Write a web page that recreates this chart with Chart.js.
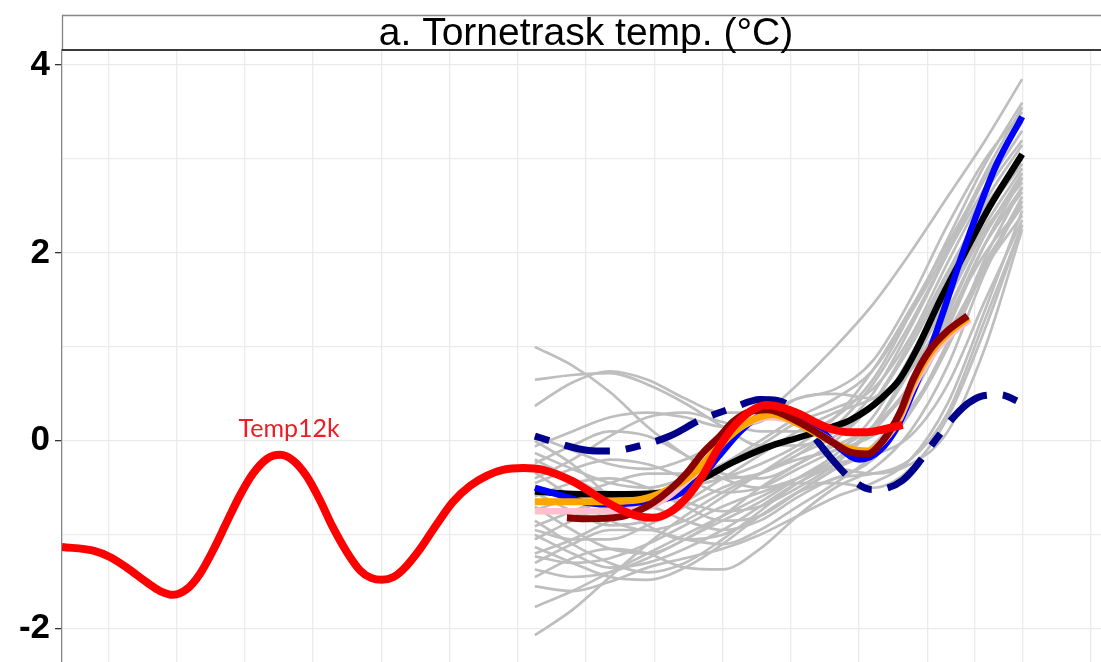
<!DOCTYPE html>
<html><head><meta charset="utf-8">
<script src="https://cdn.jsdelivr.net/npm/chart.js@4.4.1/dist/chart.umd.min.js"></script>
<style>html,body{margin:0;padding:0;background:#fff;overflow:hidden}canvas{display:block}</style>
</head><body>
<canvas id="c" width="1101" height="662"></canvas>
<script>
// ---------- DATA ----------
const panelTitle = 'a. Tornetrask temp. (°C)';
const seriesLabel = 'Temp12k';
const seriesLabelPos = [2.65, 0.04];

const yGridValues = [-2, -1, 0, 1, 2, 3, 4];
const yLabelValues = [-2, 0, 2, 4];
const xGridValues = [0, 1, 2, 3, 4, 5, 6, 7, 8, 9, 10, 11, 12, 12.69, 13.39, 14.39];
const xRange = [-0.678, 14.545];
const yRange = [-2.355, 4.16];

const temp12kX = [-0.68,-0.22,0.03,0.27,0.57,0.76,0.95,1.15,1.34,1.54,1.74,1.93,2.12,2.33,2.52,2.71,2.91,3.10,3.29,3.50,3.69,3.85,4.01,4.18,4.32,4.57,4.82,5.05,5.30,5.55,5.78,6.08,6.37,6.77,7.01,7.25,7.50,7.75,7.98,8.23,8.48,8.71,8.92,9.15,9.40,9.65,9.89,10.14,10.38,10.62,10.87,11.12,11.35,11.64];
const temp12kY = [-1.13,-1.17,-1.24,-1.35,-1.51,-1.60,-1.64,-1.58,-1.42,-1.16,-0.86,-0.58,-0.35,-0.19,-0.15,-0.21,-0.38,-0.63,-0.92,-1.19,-1.38,-1.46,-1.48,-1.45,-1.37,-1.15,-0.88,-0.65,-0.48,-0.37,-0.31,-0.29,-0.31,-0.42,-0.52,-0.63,-0.73,-0.80,-0.82,-0.76,-0.60,-0.37,-0.10,0.14,0.31,0.38,0.35,0.28,0.19,0.12,0.09,0.09,0.12,0.17];

const navyX = [6.25,6.52,7.01,7.35,7.75,8.23,8.67,9.15,9.55,9.80,10.00,10.28,10.62,10.87,11.19,11.43,11.64,11.79,12.04,12.26,12.41,12.60,12.82,13.06,13.39];
const navyY = [0.05,-0.01,-0.10,-0.11,-0.06,0.05,0.22,0.35,0.44,0.43,0.36,0.10,-0.21,-0.40,-0.52,-0.50,-0.42,-0.31,-0.07,0.14,0.27,0.40,0.48,0.49,0.40];

const blackX = [6.25,7.01,7.98,8.38,8.77,9.15,9.65,10.14,10.62,10.87,11.12,11.31,11.60,11.85,12.19,12.55,12.92,13.39];
const blackY = [-0.54,-0.57,-0.56,-0.51,-0.38,-0.23,-0.07,0.04,0.15,0.22,0.33,0.44,0.66,0.98,1.50,2.00,2.50,3.05];

const blueX = [6.25,6.77,7.01,7.50,7.98,8.38,8.67,8.96,9.26,9.55,9.80,10.14,10.43,10.72,11.01,11.31,11.56,11.79,12.04,12.27,12.51,12.76,13.02,13.39];
const blueY = [-0.50,-0.61,-0.66,-0.68,-0.65,-0.56,-0.40,-0.15,0.10,0.27,0.32,0.27,0.12,-0.08,-0.20,-0.10,0.15,0.52,0.97,1.45,1.98,2.48,2.95,3.45];

const pinkX = [6.25,7.01,7.50,7.94,8.23,8.52,8.82,9.18,9.69,10.14,10.62,10.87,11.12,11.35,11.60,11.79,12.04,12.28,12.62];
const pinkY = [-0.75,-0.75,-0.74,-0.70,-0.58,-0.40,-0.18,0.10,0.25,0.18,-0.01,-0.10,-0.13,-0.01,0.24,0.56,0.88,1.09,1.29];

const orangeX = [6.25,7.01,7.75,8.08,8.38,8.63,8.96,9.33,9.74,10.14,10.62,10.87,11.12,11.35,11.60,11.79,12.04,12.28,12.60];
const orangeY = [-0.65,-0.65,-0.63,-0.56,-0.45,-0.31,-0.05,0.18,0.28,0.17,-0.02,-0.09,-0.11,0.00,0.27,0.61,0.93,1.13,1.31];

const darkredX = [6.72,7.01,7.50,7.75,7.98,8.23,8.48,8.71,8.96,9.15,9.40,9.65,10.14,10.62,10.87,11.12,11.35,11.60,11.79,12.04,12.28,12.59];
const darkredY = [-0.82,-0.83,-0.81,-0.75,-0.66,-0.52,-0.34,-0.13,0.05,0.20,0.31,0.33,0.19,-0.02,-0.12,-0.14,0.00,0.30,0.65,0.97,1.16,1.33];

const grayX = [6.25,6.8,7.35,7.9,8.45,9.0,9.55,10.1,10.65,11.2,11.75,12.3,12.85,13.39];
const grayMembers = [
  [1.00,0.80,0.52,0.15,-0.15,-0.40,-0.50,-0.40,-0.20,0.15,0.75,1.55,2.30,2.90],
  [0.65,0.70,0.72,0.60,0.40,0.15,-0.05,-0.05,0.10,0.50,1.20,2.00,2.80,3.40],
  [0.37,0.62,0.74,0.65,0.45,0.30,0.30,0.45,0.55,0.85,1.50,2.30,3.00,3.50],
  [0.05,-0.10,-0.25,-0.30,-0.20,0.00,0.25,0.60,1.00,1.45,2.00,2.60,3.20,3.85],
  [-0.06,0.10,0.25,0.30,0.25,0.15,0.20,0.45,0.50,0.45,0.75,1.40,2.20,2.80],
  [-0.13,-0.30,-0.45,-0.50,-0.40,-0.25,-0.05,0.20,0.35,0.55,1.10,1.90,2.65,3.20],
  [-0.24,-0.05,0.10,0.05,-0.15,-0.35,-0.40,-0.25,0.00,0.40,1.05,1.80,2.50,3.00],
  [-0.34,-0.60,-0.85,-0.95,-0.85,-0.60,-0.35,-0.10,0.10,0.35,0.80,1.50,2.25,2.75],
  [-0.45,-0.30,-0.20,-0.25,-0.40,-0.55,-0.50,-0.30,-0.10,0.15,0.60,1.30,2.00,2.50],
  [-0.55,-0.75,-0.90,-0.85,-0.65,-0.40,-0.15,0.10,0.30,0.45,0.75,1.30,2.10,2.70],
  [-0.59,-0.45,-0.40,-0.50,-0.70,-0.85,-0.80,-0.55,-0.30,-0.05,0.45,1.20,2.10,2.80],
  [-0.70,-0.95,-1.15,-1.20,-1.05,-0.80,-0.50,-0.25,-0.05,0.15,0.55,1.15,1.85,2.40],
  [-0.74,-0.60,-0.45,-0.35,-0.35,-0.40,-0.35,-0.15,0.15,0.60,1.25,2.00,2.70,3.30],
  [-0.85,-1.10,-1.30,-1.40,-1.30,-1.05,-0.75,-0.45,-0.25,-0.15,0.05,0.60,1.50,2.35],
  [-0.91,-0.75,-0.60,-0.55,-0.65,-0.75,-0.70,-0.50,-0.25,0.15,0.80,1.60,2.40,2.95],
  [-0.95,-1.05,-1.05,-0.90,-0.70,-0.50,-0.35,-0.20,-0.10,0.05,0.35,1.00,1.85,2.60],
  [-1.05,-0.85,-0.70,-0.70,-0.85,-0.95,-0.85,-0.60,-0.40,-0.35,-0.20,0.30,1.30,2.30],
  [-1.13,-1.30,-1.45,-1.48,-1.35,-1.10,-0.80,-0.55,-0.40,-0.20,0.30,1.05,1.90,2.50],
  [-1.20,-1.05,-0.85,-0.65,-0.50,-0.40,-0.25,-0.05,0.25,0.75,1.40,2.10,2.80,3.40],
  [-1.23,-1.30,-1.25,-1.10,-0.90,-0.70,-0.55,-0.45,-0.45,-0.50,-0.30,0.25,1.20,2.30],
  [-1.30,-1.10,-0.95,-0.95,-1.05,-1.10,-0.95,-0.70,-0.45,-0.15,0.45,1.25,2.10,2.65],
  [-1.37,-1.45,-1.40,-1.25,-1.05,-0.85,-0.65,-0.40,-0.15,0.25,0.90,1.65,2.45,3.05],
  [-1.45,-1.25,-1.15,-1.20,-1.35,-1.37,-1.15,-0.80,-0.50,-0.30,0.10,0.80,1.80,2.55],
  [-1.55,-1.60,-1.50,-1.35,-1.25,-1.15,-1.00,-0.80,-0.60,-0.45,-0.20,0.40,1.40,2.45],
  [-1.77,-1.60,-1.40,-1.20,-1.00,-0.80,-0.60,-0.40,-0.20,0.10,0.60,1.35,2.20,2.85],
  [-2.07,-1.80,-1.45,-1.10,-0.80,-0.55,-0.35,-0.15,0.05,0.40,1.00,1.75,2.55,3.15],
  [0.00,-0.25,-0.60,-0.90,-1.05,-1.00,-0.80,-0.55,-0.30,-0.10,0.30,1.00,1.95,2.70],
  [-0.40,-0.20,0.05,0.25,0.30,0.20,0.10,0.10,0.25,0.65,1.35,2.15,2.95,3.60],
  [-1.00,-1.20,-1.35,-1.30,-1.15,-0.95,-0.70,-0.45,-0.30,-0.35,-0.25,0.10,1.00,2.25],
  [-0.20,-0.40,-0.55,-0.55,-0.45,-0.25,0.00,0.25,0.45,0.75,1.35,2.05,2.85,3.55]
];

// ---------- BUILD ----------
const zip = (xs, ys) => xs.map((x, i) => ({ x, y: ys[i] }));
const lineDs = (xs, ys, color, width, order, extra) => Object.assign({
  data: zip(xs, ys), borderColor: color, borderWidth: width, pointRadius: 0, order,
  cubicInterpolationMode: 'monotone', fill: false, borderCapStyle: 'butt', borderJoinStyle: 'round'
}, extra || {});

// higher "order" is drawn first (underneath)
const datasets = [];
grayMembers.forEach(ys => datasets.push(lineDs(grayX, ys, '#BEBEBE', 2.7, 100)));
datasets.push(lineDs(navyX, navyY, '#00008B', 7, 8, { borderDash: [15, 16, 46, 16] }));
datasets.push(lineDs(blackX, blackY, '#000000', 6.5, 7));
datasets.push(lineDs(blueX, blueY, '#0000FF', 6.5, 6));
datasets.push(lineDs(pinkX, pinkY, '#FFC0CB', 6.5, 5));
datasets.push(lineDs(orangeX, orangeY, '#FFA500', 7, 4));
datasets.push(lineDs(darkredX, darkredY, '#8B0000', 7, 3));
datasets.push(lineDs(temp12kX, temp12kY, '#FF0000', 8, 1));

const stripPlugin = {
  id: 'strip',
  afterDraw(chart) {
    const { ctx, chartArea } = chart;
    const left = chartArea.left, right = chartArea.right + 9, top = 15, bottom = chartArea.top;
    ctx.save();
    ctx.strokeStyle = '#858585'; ctx.lineWidth = 1.3;
    ctx.beginPath();
    ctx.moveTo(left, top + 0.5); ctx.lineTo(right, top + 0.5);
    ctx.moveTo(left + 0.5, top); ctx.lineTo(left + 0.5, bottom);
    ctx.stroke();
    ctx.strokeStyle = '#3a3a3a'; ctx.lineWidth = 2;
    ctx.beginPath(); ctx.moveTo(left, bottom); ctx.lineTo(right, bottom); ctx.stroke();
    ctx.fillStyle = '#000';
    ctx.font = '39px "Liberation Sans", Arial, sans-serif';
    ctx.textAlign = 'center'; ctx.textBaseline = 'alphabetic';
    ctx.fillText(panelTitle, (left + right) / 2, 45);
    const xs = chart.scales.x, ys = chart.scales.y;
    ctx.fillStyle = '#EE1C25';
    ctx.font = '25px Lato, "Open Sans", sans-serif';
    ctx.fillText(seriesLabel, xs.getPixelForValue(seriesLabelPos[0]), ys.getPixelForValue(seriesLabelPos[1]));
    ctx.restore();
  }
};

new Chart(document.getElementById('c'), {
  type: 'line',
  data: { datasets },
  options: {
    responsive: false, animation: false,
    layout: { padding: { top: 50, left: 0, right: 0, bottom: 0 } },
    plugins: { legend: { display: false }, tooltip: { enabled: false } },
    scales: {
      x: {
        type: 'linear', min: xRange[0], max: xRange[1],
        afterBuildTicks: s => { s.ticks = xGridValues.map(v => ({ value: v })); },
        ticks: { display: false },
        grid: { color: '#EBEBEB', lineWidth: 1.3, drawTicks: false },
        border: { display: false },
        afterFit: s => { s.height = 0; s.paddingLeft = 0; s.paddingRight = 0; }
      },
      y: {
        type: 'linear', min: yRange[0], max: yRange[1],
        afterBuildTicks: s => { s.ticks = yGridValues.map(v => ({ value: v })); },
        ticks: {
          callback: v => yLabelValues.includes(v) ? String(v) : '',
          color: '#000', padding: 5,
          font: { family: '"Liberation Sans", Arial, sans-serif', size: 35, weight: 'bold' }
        },
        grid: {
          color: '#EBEBEB', lineWidth: 1.3, tickLength: 7, tickWidth: 1.3,
          tickColor: c => (c.tick && yLabelValues.includes(c.tick.value)) ? '#333333' : 'rgba(0,0,0,0)'
        },
        border: { display: true, color: '#858585', width: 1.3 },
        afterFit: s => { s.width = 62; s.paddingTop = 0; s.paddingBottom = 0; }
      }
    }
  },
  plugins: [stripPlugin]
});
</script></body></html>
